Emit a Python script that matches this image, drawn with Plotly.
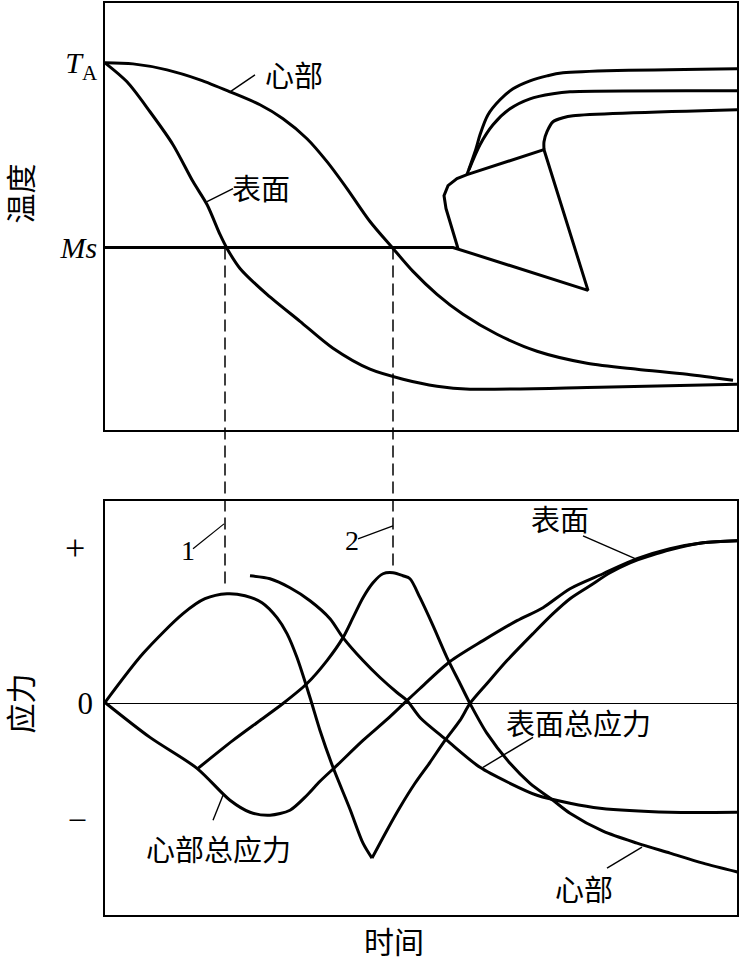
import plotly.graph_objects as go

# ---------------- data (time units, temperature units, stress units) ----------------
# Top panel: temperature vs time
core_t = [0, 28, 62, 95, 125, 155, 178, 202, 222, 242, 265, 288, 308, 332, 358, 392, 432, 482, 532, 582, 628]
core_T = [368, 367, 361, 351, 339, 326, 312, 292, 269, 242, 209, 182, 159, 136, 116, 96, 79, 67, 61, 56, 50]

surf_t = [0, 22, 45, 68, 88, 102, 115, 122, 135, 162, 195, 228, 265, 298, 332, 365, 495, 632]
surf_T = [368, 349, 319, 286, 249, 226, 196, 182, 162, 136, 109, 82, 61, 51, 44, 41, 43, 46]

T_A = 368
Ms = 183

# Ms line continuing into the transformation polygon
ms_t = [0, 348, 483, 439, 362, 352, 343, 339, 341, 353]
ms_T = [Ms, Ms, 140, 281, 256, 252, 245, 235, 222, 182]

upA_t = [362, 371, 375, 383, 395, 408, 425, 442, 458, 633]
upA_T = [256, 282, 296, 316, 331, 342, 350, 355, 358, 362]
upB_t = [364, 375, 388, 405, 425, 448, 465, 633]
upB_T = [261, 286, 306, 322, 332, 337, 339, 340]
upC_t = [439, 439, 442, 448, 458, 468, 633]
upC_T = [281, 289, 299, 309, 313, 315, 321]

# Bottom panel: stress vs time
P1_t = [0, 38, 78, 100, 122, 140, 157, 172, 182, 192, 205, 215, 228, 245, 258, 267]
P1_s = [1, 50, 90, 105, 110, 108, 101, 86, 70, 46, 6, -27, -64, -106, -140, -155]
P2_t = [267, 282, 295, 310, 325, 340, 355, 365, 382, 402, 428, 448, 465, 485, 505, 525, 545, 565, 598, 633]
P2_s = [-155, -127, -104, -80, -59, -37, -17, 0, 20, 43, 70, 90, 105, 118, 131, 141, 148, 154, 161, 163]

Q_t = [0, 45, 92, 125, 145, 165, 185, 202, 215, 232, 258, 282, 300, 315, 345, 378, 412, 438, 465, 498, 532, 565, 598, 633]
Q_s = [1, -34, -65, -97, -109, -112, -107, -92, -78, -62, -37, -16, 1, 15, 42, 63, 83, 96, 115, 130, 145, 155, 161, 163]

R_t = [93, 128, 155, 178, 202, 222, 238, 248, 258, 268, 278, 288, 298, 305, 315, 328, 342, 355, 365, 382, 405, 425, 448, 465, 498, 532, 565, 598, 633]
R_s = [-65, -37, -17, 0, 20, 43, 66, 86, 106, 121, 130, 131, 128, 125, 106, 78, 46, 20, 0, -30, -60, -80, -97, -110, -128, -140, -150, -160, -169]

S_t = [145, 165, 185, 205, 225, 238, 258, 275, 292, 302, 315, 342, 375, 405, 432, 465, 495, 565, 633]
S_s = [128, 125, 116, 103, 85, 66, 43, 26, 11, 3, -14, -37, -64, -80, -92, -100, -105, -109, -109]

# dashed guide lines: time, stress at lower end
guide_t = [120, 288]
guide_s = [118, 136]

# tick labels
temp_tickvals = [T_A, Ms]
temp_ticktext = ["<i>T</i><sub>A</sub>", "<i>Ms</i>"]
stress_tickvals = [155, 0, -114]
stress_ticktext = ['<span style="font-size:36px">+</span>&nbsp;', "0", "\u2013&nbsp;"]

# labels: (text, t, value, leader t0, leader v0, leader t1, leader v1)
top_labels = [
    ("心部", 189, 357, 125, 339, 150, 356),
    ("表面", 156, 244, 102, 229, 128, 242),
]
bot_labels = [
    ("表面", 455, 186, 478, 168, 533, 144),
    ("表面总应力", 473, -19, 428, -34, 378, -64),
    ("心部", 479, -185, 502, -165, 537, -144),
    ("心部总应力", 113, -145, 108, -117, 118, -92),
]
num_labels = [
    ("1", 83, 153, 88, 155, 119, 180),
    ("2", 247, 163, 253, 165, 288, 178),
]

# ---------------- layout geometry ----------------
X_RANGE = [0, 632]
TOP_DOM = [(915 - 429) / 914, 1.0]
BOT_DOM = [0.0, 415 / 914]
TOP_RANGE = [0, 428]
BOT_RANGE = [-212, 203]
OV_RANGE = [-212, 702]

CJK = "Noto Sans CJK SC"
SERIF = "Liberation Serif"
LW = 3


def to_overlay(v, dom, rng):
    f = dom[0] + (v - rng[0]) / (rng[1] - rng[0]) * (dom[1] - dom[0])
    return OV_RANGE[0] + f * (OV_RANGE[1] - OV_RANGE[0])


fig = go.Figure()


def curve(t, v, xa, ya, shape="spline", width=LW):
    fig.add_trace(go.Scatter(x=t, y=v, mode="lines", xaxis=xa, yaxis=ya,
                             line=dict(color="black", width=width, shape=shape, smoothing=0.8),
                             showlegend=False, hoverinfo="skip"))


# top panel
curve(core_t, core_T, "x", "y")
curve(surf_t, surf_T, "x", "y")
curve(ms_t, ms_T, "x", "y", shape="linear")
curve(upA_t, upA_T, "x", "y")
curve(upB_t, upB_T, "x", "y")
curve(upC_t, upC_T, "x", "y")

# bottom panel
curve(P1_t, P1_s, "x2", "y2")
curve(P2_t, P2_s, "x2", "y2")
curve(Q_t, Q_s, "x2", "y2")
curve(R_t, R_s, "x2", "y2")
curve(S_t, S_s, "x2", "y2")

# dashed guides spanning both panels
for gt, gs in zip(guide_t, guide_s):
    y_top = to_overlay(Ms, TOP_DOM, TOP_RANGE)
    y_bot = to_overlay(gs, BOT_DOM, BOT_RANGE)
    fig.add_trace(go.Scatter(x=[gt, gt], y=[y_top, y_bot], mode="lines", xaxis="x3", yaxis="y3",
                             line=dict(color="black", width=1.5, dash="12px,6px"),
                             showlegend=False, hoverinfo="skip"))

annotations = []


def label(text, t, v, xr, yr, font, size):
    annotations.append(dict(text=text, x=t, y=v, xref=xr, yref=yr, showarrow=False,
                            font=dict(family=font, size=size, color="black"),
                            xanchor="center", yanchor="middle"))


for txt, t, v, a0, b0, a1, b1 in top_labels:
    label(txt, t, v, "x", "y", CJK, 29)
    curve([a0, a1], [b0, b1], "x", "y", shape="linear", width=1.4)
for txt, t, v, a0, b0, a1, b1 in bot_labels:
    label(txt, t, v, "x2", "y2", CJK, 29)
    curve([a0, a1], [b0, b1], "x2", "y2", shape="linear", width=1.4)
for txt, t, v, a0, b0, a1, b1 in num_labels:
    label(txt, t, v, "x2", "y2", SERIF, 28)
    curve([a0, a1], [b0, b1], "x2", "y2", shape="linear", width=1.2)

# axis titles as annotations (positions given in pixels, converted to paper units)
titles = [("温度", 19, 192, -90), ("应力", 19, 703, -90), ("时间", 394, 940, 0)]
for txt, px, py, ang in titles:
    annotations.append(dict(text=txt, x=(px - 105) / 632, y=(915 - py) / 914,
                            xref="paper", yref="paper", showarrow=False, textangle=ang,
                            xanchor="center", yanchor="middle",
                            font=dict(family=CJK, size=30, color="black")))

box = dict(showline=True, mirror=True, linecolor="black", linewidth=1.6,
           showgrid=False, ticks="")

fig.update_layout(
    width=740, height=959,
    margin=dict(l=105, r=3, t=1, b=44),
    paper_bgcolor="white", plot_bgcolor="rgba(0,0,0,0)",
    xaxis=dict(domain=[0, 1], range=X_RANGE, anchor="y", showticklabels=False, zeroline=False, **box),
    yaxis=dict(domain=TOP_DOM, range=TOP_RANGE, anchor="x", zeroline=False,
               tickvals=temp_tickvals, ticktext=temp_ticktext, ticklabelstandoff=0,
               tickfont=dict(family=SERIF, size=30, color="black"), **box),
    xaxis2=dict(domain=[0, 1], range=X_RANGE, anchor="y2", showticklabels=False, zeroline=False, **box),
    yaxis2=dict(domain=BOT_DOM, range=BOT_RANGE, anchor="x2",
                zeroline=True, zerolinecolor="black", zerolinewidth=1.3,
                tickvals=stress_tickvals, ticktext=stress_ticktext, ticklabelstandoff=4,
                tickfont=dict(family=SERIF, size=31, color="black"), **box),
    xaxis3=dict(domain=[0, 1], range=X_RANGE, anchor="y3", visible=False),
    yaxis3=dict(domain=[0, 1], range=OV_RANGE, anchor="x3", visible=False),
    annotations=annotations,
    showlegend=False,
)

fig.write_html("out.html", config={"displayModeBar": False},
               post_script="document.body.style.margin='0';document.body.style.overflow='hidden';")
